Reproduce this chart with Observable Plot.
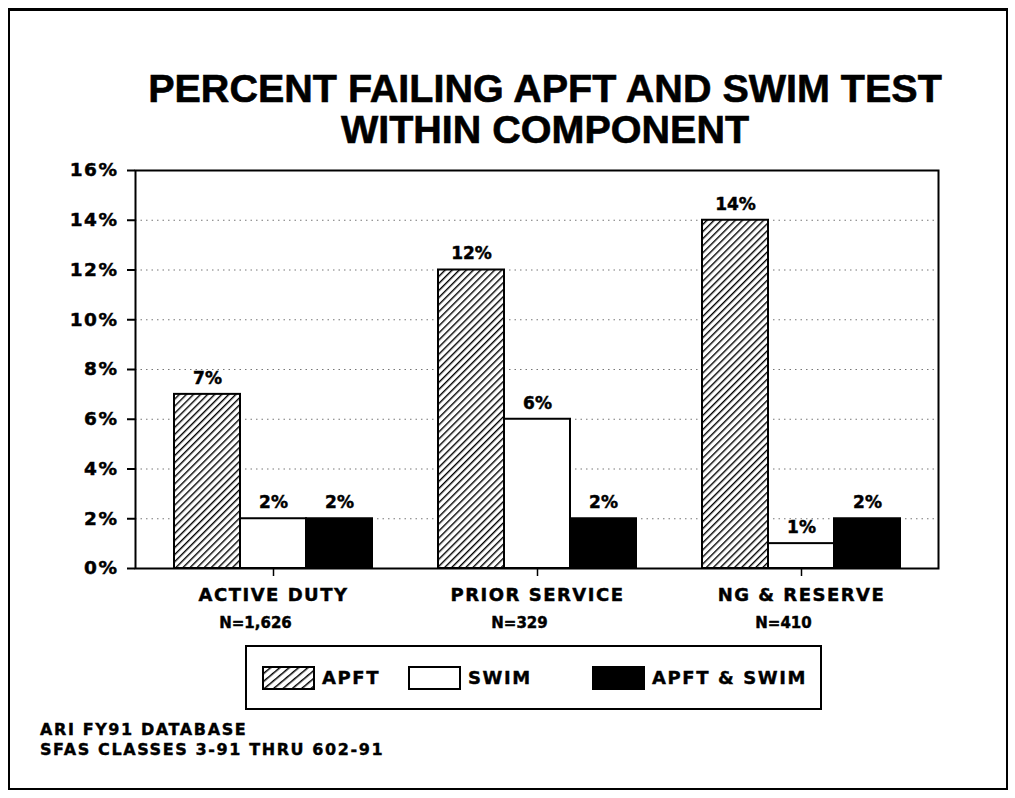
<!DOCTYPE html>
<html>
<head>
<meta charset="utf-8">
<script src="https://cdn.jsdelivr.net/npm/d3@7"></script>
<script src="https://cdn.jsdelivr.net/npm/@observablehq/plot@0.6"></script>
<style>
  html, body { margin: 0; padding: 0; background: #fff; }
  #page { position: relative; width: 1015px; height: 798px; overflow: hidden; background: #fff; }
  #border { position: absolute; left: 8px; top: 8px; width: 1000px; height: 782px; border: 2px solid #000; border-top-width: 3px; box-sizing: border-box; }
  #title { position: absolute; left: 145px; top: 68px; width: 800px; text-align: center;
           font-family: "Liberation Sans", Arial, sans-serif; font-weight: bold; font-size: 39.5px; line-height: 41px; color: #000;
           -webkit-text-stroke: 0.6px #000; }
  #chart { position: absolute; left: 0; top: 0; }
  #chart svg text { stroke: #000; stroke-width: 0.45px; }
  #legend { position: absolute; left: 245px; top: 645px; width: 577px; height: 65px; border: 2px solid #000; box-sizing: border-box; background: #fff; }
  .litem { position: absolute; top: 0; height: 61px; display: flex; align-items: center;
           font-family: "DejaVu Sans", sans-serif; font-weight: bold; font-size: 18px; letter-spacing: 1.6px; -webkit-text-stroke: 0.4px #000; }
  .litem svg { margin-right: 7px; }
  #foot { position: absolute; left: 40px; top: 720px; font-family: "DejaVu Sans", sans-serif; font-weight: bold;
          font-size: 16px; letter-spacing: 1.6px; line-height: 20px; -webkit-text-stroke: 0.4px #000; }
</style>
</head>
<body>
<div id="page">
  <div id="border"></div>
  <div id="chart"></div>
  <div id="title"></div>
  <div id="legend"></div>
  <div id="foot"></div>
</div>
<script>
// ---- data ----
const titleLines = ["PERCENT FAILING APFT AND SWIM TEST", "WITHIN COMPONENT"];
const categories = ["ACTIVE DUTY", "PRIOR SERVICE", "NG & RESERVE"];
const sampleSizes = ["N=1,626", "N=329", "N=410"];
const series = ["APFT", "SWIM", "APFT & SWIM"];
const apftValues = [7, 12, 14];
const swimValues = [2, 6, 1];
const bothValues = [2, 2, 2];
const yTicks = [0, 2, 4, 6, 8, 10, 12, 14, 16];
const footLines = ["ARI FY91 DATABASE", "SFAS CLASSES 3-91 THRU 602-91"];

// ---- build table ----
const valuesBySeries = [apftValues, swimValues, bothValues];
const rows = [];
categories.forEach((c, i) => {
  series.forEach((s, j) => {
    rows.push({category: c, series: s, value: valuesBySeries[j][i], key: c + "|" + s});
  });
});
// x band domain: three bars per group, one empty band between groups
const xDomain = [];
categories.forEach((c, i) => {
  series.forEach(s => xDomain.push(c + "|" + s));
  if (i < categories.length - 1) xDomain.push("gap" + i);
});
const centerKey = c => c + "|" + series[1];
const catRows = categories.map((c, i) => ({category: c, n: sampleSizes[i], key: centerKey(c)}));

const fills = {"APFT": "url(#hatch)", "SWIM": "#fff", "APFT & SWIM": "#000"};

const chart = Plot.plot({
  width: 1015,
  height: 640,
  marginTop: 170,
  marginBottom: 72,
  marginLeft: 135,
  marginRight: 77,
  style: {fontFamily: "DejaVu Sans, sans-serif", fontWeight: "bold", color: "#000", background: "transparent"},
  x: {type: "band", domain: xDomain, paddingInner: 0, paddingOuter: 0.5},
  y: {domain: [0, 16]},
  marks: [
    Plot.ruleY(yTicks.filter(t => t > 0 && t < 16), {stroke: "#777", strokeWidth: 1, strokeDasharray: "1.5,4"}),
    ...series.map(s => Plot.barY(rows.filter(r => r.series === s), {
      x: "key", y: "value", fill: fills[s], stroke: "#000", strokeWidth: 2
    })),
    Plot.text(rows, {x: "key", y: "value", text: d => d.value + "%", dy: -16, fontSize: 17, fontWeight: "bold", fill: "#000"}),
    Plot.frame({stroke: "#000", strokeWidth: 2}),
    Plot.axisY({ticks: yTicks, tickFormat: d => d + "%", tickSize: 8, tickPadding: 9, fontSize: 18.5, fontWeight: "bold", strokeWidth: 2, label: null}),
    Plot.axisX({ticks: categories.map(centerKey), tickFormat: k => k.split("|")[0], tickSize: 8, tickPadding: 12,
                fontSize: 18, fontWeight: "bold", strokeWidth: 1.5, label: null}),
    Plot.text(catRows, {x: "key", text: "n", frameAnchor: "bottom", dy: 59, dx: -18, fontSize: 15, fontWeight: "bold", fill: "#000"})
  ]
});

// hatch pattern
const defs = d3.select(chart).insert("defs", ":first-child");
const pat = defs.append("pattern").attr("id", "hatch").attr("patternUnits", "userSpaceOnUse")
  .attr("width", 5).attr("height", 5).attr("patternTransform", "rotate(45)");
pat.append("rect").attr("width", 5).attr("height", 5).attr("fill", "#fff");
pat.append("line").attr("x1", 0).attr("y1", 0).attr("x2", 0).attr("y2", 5).attr("stroke", "#000").attr("stroke-width", 2.8);

d3.select(chart).selectAll("[aria-label='x-axis tick label'] text, [aria-label='y-axis tick label'] text").style("letter-spacing", "1.5px");
document.getElementById("chart").appendChild(chart);

// title
document.getElementById("title").innerHTML = titleLines.map(t => `<div>${t.replace(/&/g, "&amp;")}</div>`).join("");

// legend
const legend = document.getElementById("legend");
const legendLeft = [15, 161, 345];
series.forEach((s, j) => {
  const item = document.createElement("div");
  item.className = "litem";
  item.style.left = legendLeft[j] + "px";
  const sw = d3.create("svg").attr("width", 53).attr("height", 24);
  if (j === 0) {
    const p = sw.append("defs").append("pattern").attr("id", "hatchL").attr("patternUnits", "userSpaceOnUse")
      .attr("width", 6).attr("height", 6).attr("patternTransform", "rotate(50)");
    p.append("rect").attr("width", 6).attr("height", 6).attr("fill", "#fff");
    p.append("line").attr("x1", 0).attr("y1", 0).attr("x2", 0).attr("y2", 6).attr("stroke", "#000").attr("stroke-width", 3);
  }
  sw.append("rect").attr("x", 1).attr("y", 1).attr("width", 51).attr("height", 22)
    .attr("fill", j === 0 ? "url(#hatchL)" : fills[s]).attr("stroke", "#000").attr("stroke-width", 2);
  item.appendChild(sw.node());
  const label = document.createElement("span");
  label.textContent = s;
  item.appendChild(label);
  legend.appendChild(item);
});

// footnote
document.getElementById("foot").innerHTML = footLines.map(t => `<div>${t}</div>`).join("");
</script>
</body>
</html>
